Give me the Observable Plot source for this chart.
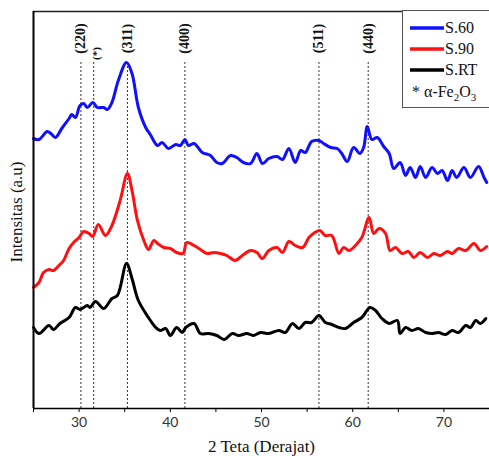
<!DOCTYPE html>
<html>
<head>
<meta charset="utf-8">
<script src="https://cdn.jsdelivr.net/npm/d3@7"></script>
<script src="https://cdn.jsdelivr.net/npm/@observablehq/plot@0.6"></script>
<style>
  html, body { margin: 0; padding: 0; background: #fff; }
  #wrap { position: relative; width: 489px; height: 456px; overflow: hidden; }
  #legend {
    position: absolute; left: 402px; top: 10px; width: 92px; height: 98px;
    border: 1px solid #555; background: #fff; box-sizing: border-box;
    font-family: "Liberation Serif", "DejaVu Serif", serif; font-size: 16px; color: #111;
  }
  .row { position: absolute; left: 7px; display: flex; align-items: center; height: 18px; white-space: nowrap; }
  .row svg { margin-right: 1px; }
</style>
</head>
<body>
<div id="wrap">
  <div id="chart"></div>
  <div id="legend"></div>
</div>
<script>
// 2-theta positions (degrees) and intensity (a.u.) for each sample
const thetaS60 = [25.0,25.6,26.5,26.9,27.4,28.1,28.9,29.2,29.6,30.1,30.5,30.9,31.5,32.0,32.7,33.1,33.6,34.3,35.2,35.8,36.5,37.3,37.8,38.6,39.1,39.8,40.6,41.1,41.6,42.0,42.6,43.5,44.4,45.1,45.7,46.6,47.3,48.0,48.8,49.5,50.1,50.8,51.7,52.3,53.0,53.7,54.3,54.8,55.5,56.3,56.8,57.6,58.3,58.8,59.4,60.1,60.8,61.2,61.6,62.1,62.7,63.4,64.0,64.5,65.2,65.8,66.3,66.9,67.4,68.0,68.7,69.3,69.8,70.4,70.9,71.4,72.2,72.9,73.8,74.4,74.7];
const intS60   = [270,269,277,275,271,280,290,294,291,303,305,301,306,301,301,299,306,328,346,335,301,281,274,263,266,260,264,263,269,263,265,256,253,246,245,253,251,246,245,255,245,250,252,249,260,246,258,256,267,268,265,261,260,255,247,261,255,261,282,269,271,262,255,240,246,233,241,231,242,231,241,235,238,228,238,231,241,231,242,231,226];

const thetaS90 = [25.0,25.6,26.1,26.7,27.2,27.8,28.3,28.9,29.4,30.0,30.5,31.1,31.5,32.1,32.9,33.6,34.5,35.3,35.8,36.4,37.1,37.6,38.2,38.6,39.3,40.0,40.7,41.4,41.8,42.6,43.3,44.0,44.8,45.5,46.2,47.1,47.9,48.8,49.5,50.1,50.8,51.7,52.3,53.0,53.7,54.5,55.2,55.7,56.4,57.0,57.7,58.5,59.0,59.6,60.3,61.0,61.8,62.3,62.9,63.6,64.1,64.7,65.4,66.1,66.7,67.4,68.2,68.9,69.6,70.4,70.9,71.6,72.4,73.3,74.0,74.7];
const intS90   = [121,126,136,139,138,143,148,160,166,171,177,175,172,184,173,183,208,235,218,188,168,159,168,165,161,160,156,155,166,163,159,155,156,155,153,148,153,158,156,150,158,161,156,167,163,161,171,175,178,173,173,155,161,158,163,171,191,175,180,175,158,161,155,157,151,156,151,155,153,157,155,160,158,165,158,162];

const thetaSRT = [25.0,25.6,26.7,27.2,27.9,28.9,29.6,30.1,30.9,31.2,31.8,32.7,33.6,34.2,35.2,35.8,36.5,37.6,38.4,38.9,39.5,40.0,40.7,41.3,41.7,42.6,43.3,44.2,45.1,45.9,46.8,47.5,48.4,49.1,49.9,50.8,51.9,52.6,53.4,54.1,54.8,55.5,56.3,57.0,57.7,58.5,59.2,60.1,61.0,61.9,62.5,63.2,64.0,64.9,65.2,65.8,66.5,67.2,68.0,68.7,69.4,70.2,70.9,71.6,72.4,72.9,73.5,74.0,74.6];
const intSRT   = [81,75,83,79,85,91,101,99,103,101,107,100,110,113,145,130,108,91,81,78,80,73,81,76,81,85,75,75,73,69,75,73,75,73,76,75,78,76,85,80,86,86,93,86,84,81,80,86,91,101,98,90,85,88,75,81,78,80,76,75,76,74,78,76,83,81,88,85,90];

// reflection markers
const peakPos    = [30.2, 31.6, 35.3, 41.6, 56.3, 61.7];
const peakLabels = ["(220)", "(*)", "(311)", "(400)", "(511)", "(440)"];

const seriesNames  = ["S.60", "S.90", "S.RT"];
const seriesColors = ["#1010ff", "#ff1010", "#000000"];

const xTicks = d3.range(25, 76, 5);

const build = (name, th, iv) => th.map((t, i) => ({series: name, theta: t, intensity: iv[i]}));
const data = [
  ...build("S.60", thetaS60, intS60),
  ...build("S.90", thetaS90, intS90),
  ...build("S.RT", thetaSRT, intSRT)
];
const peaks = peakPos.map((p, i) => ({pos: p, label: peakLabels[i]}));

const serif = "'Liberation Serif', 'DejaVu Serif', serif";

const chart = Plot.plot({
  width: 489,
  height: 456,
  marginLeft: 33,
  marginRight: 0,
  marginTop: 11,
  marginBottom: 48,
  x: {domain: [25, 75]},
  y: {domain: [0, 397], axis: null},
  color: {domain: seriesNames, range: seriesColors},
  style: {background: "#fff", overflow: "visible"},
  marks: [
    Plot.ruleX(peaks, {x: "pos", y1: 0, y2: 346, stroke: "#333", strokeWidth: 1, strokeDasharray: "2,2"}),
    Plot.text(peaks.filter(d => d.label !== "(*)"), {x: "pos", y: 370, text: "label", rotate: -90,
      fontFamily: serif, fontWeight: "bold", fontSize: 14, fill: "#111", textAnchor: "middle", lineAnchor: "middle"}),
    Plot.text(peaks.filter(d => d.label === "(*)"), {x: "pos", y: 355, text: "label", rotate: -90, dx: 3,
      fontFamily: serif, fontWeight: "bold", fontSize: 11, fill: "#111", textAnchor: "middle", lineAnchor: "middle"}),
    Plot.line(data, {x: "theta", y: "intensity", z: "series", stroke: "series", strokeWidth: 3, curve: "catmull-rom"}),
    Plot.ruleY([0], {stroke: "#000", strokeWidth: 1.5}),
    Plot.ruleY([397], {stroke: "#222", strokeWidth: 1.5}),
    Plot.ruleX([25], {stroke: "#000", strokeWidth: 2}),
    Plot.axisX({ticks: xTicks, tickFormat: d => d % 10 === 0 ? String(d) : "", tickSize: 4, tickPadding: 5,
      fontSize: 14, fontFamily: "Lato, 'Open Sans', sans-serif", fill: "#333", label: null}),
    Plot.text(["2 Teta (Derajat)"], {frameAnchor: "bottom", dy: 38, fontFamily: serif, fontSize: 17, fill: "#111", lineAnchor: "middle"}),
    Plot.text(["Intensitas (a.u)"], {frameAnchor: "left", dx: -17, dy: 2, rotate: -90, fontFamily: serif, fontSize: 17, fill: "#111", textAnchor: "middle", lineAnchor: "middle"})
  ]
});
document.getElementById("chart").appendChild(chart);

// legend
const legend = document.getElementById("legend");
const rowsTop = [8, 29, 50];
seriesNames.forEach((n, i) => {
  const row = document.createElement("div");
  row.className = "row";
  row.style.top = rowsTop[i] + "px";
  row.innerHTML = `<svg width="34" height="8"><line x1="0" y1="4" x2="34" y2="4" stroke="${seriesColors[i]}" stroke-width="3.5"/></svg><span>${n}</span>`;
  legend.appendChild(row);
});
const fe = document.createElement("div");
fe.className = "row";
fe.style.top = "73px";
fe.style.left = "9px";
fe.innerHTML = `<span>* α-Fe<sub style="font-size:11px;vertical-align:-4px">2</sub>O<sub style="font-size:11px;vertical-align:-4px">3</sub></span>`;
legend.appendChild(fe);
</script>
</body>
</html>
